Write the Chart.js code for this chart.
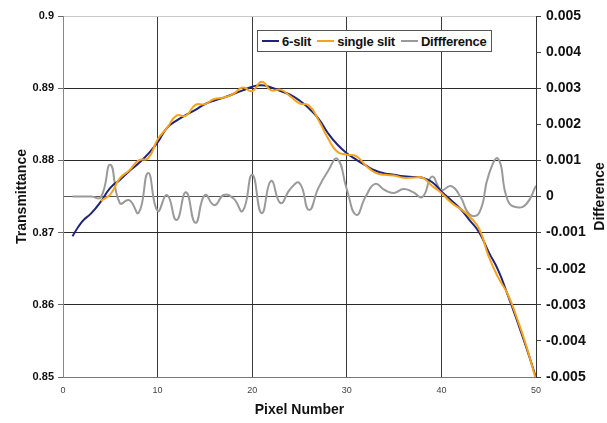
<!DOCTYPE html>
<html>
<head>
<meta charset="utf-8">
<script src="https://cdn.jsdelivr.net/npm/chart.js@4/dist/chart.umd.min.js"></script>
<style>
  html, body { margin: 0; padding: 0; background: #fff; }
  #wrap { position: relative; width: 607px; height: 423px; }
  #legend {
    position: absolute; left: 257px; top: 30px; height: 20px;
    border: 1px solid #555; background: #fff;
    display: flex; align-items: center; padding: 0 4px 0 4px;
    font: bold 13px "Liberation Sans", Arial, sans-serif; letter-spacing: -0.2px;
    color: #111; white-space: nowrap;
  }
  #legend .item { display: flex; align-items: center; margin-right: 6px; }
  #legend .item:last-child { margin-right: 0; }
  #legend .swatch { width: 17px; height: 2px; margin-right: 3px; }
</style>
</head>
<body>
<div id="wrap">
  <canvas id="myChart" width="607" height="423"></canvas>
  <div id="legend"></div>
</div>
<script>
// Pixel numbers along the detector
const pixels = [1, 2, 3, 4, 5, 6, 7, 8, 9, 10,
    11, 12, 13, 14, 15, 16, 17, 18, 19, 20,
    21, 22, 23, 24, 25, 26, 27, 28, 29, 30,
    31, 32, 33, 34, 35, 36, 37, 38, 39, 40,
    41, 42, 43, 44, 45, 46, 47, 48, 49, 50];

// Transmittance, 6-slit
const sixSlit = [0.8695, 0.8715, 0.8727, 0.8743, 0.8762, 0.8773, 0.8785, 0.8796, 0.8809, 0.8825,
    0.8845, 0.8855, 0.8863, 0.8870, 0.8878, 0.8883, 0.8887, 0.8892, 0.8897, 0.8902,
    0.8904, 0.8901, 0.8896, 0.8891, 0.8883, 0.8872, 0.8858, 0.8838, 0.8822, 0.8810,
    0.8801, 0.8793, 0.8786, 0.8782, 0.8780, 0.8778, 0.8777, 0.8776, 0.8770, 0.8757,
    0.8745, 0.8733, 0.8717, 0.8700, 0.8673, 0.8648, 0.8614, 0.8578, 0.8540, 0.8499];

// Transmittance, single slit (no reading for the first pixels)
const singleSlit = [null, null, null, 0.8744, 0.8753, 0.8775, 0.8786, 0.8800, 0.8803, 0.8829,
    0.8845, 0.8862, 0.8862, 0.8877, 0.8878, 0.8885, 0.8887, 0.8892, 0.8901, 0.8896,
    0.8909, 0.8897, 0.8898, 0.8889, 0.8879, 0.8876, 0.8856, 0.8831, 0.8812, 0.8808,
    0.8806, 0.8793, 0.8783, 0.8780, 0.8779, 0.8776, 0.8776, 0.8776, 0.8765, 0.8755,
    0.8742, 0.8733, 0.8722, 0.8705, 0.8667, 0.8638, 0.8615, 0.8581, 0.8542, 0.8496];

// Difference (right axis)
const difference = [0, 0, 0, -0.00002, 0.00088, -0.00018, -0.0001, -0.00045, 0.00065, -0.0004,
    0.00004, -0.00065, 0.00012, -0.00073, 0.00004, -0.00024, 0.00004, -0.00005, -0.0004, 0.0006,
    -0.00046, 0.00043, -0.00018, 0.0002, 0.00037, -0.00037, 0.00024, 0.0007, 0.00104, 0.0002,
    -0.00051, 0.0, 0.00035, 0.00018, 0.0001, 0.00021, 0.00012, -0.00001, 0.00055, 0.00018,
    0.00029, 0.0, -0.0005, -0.00045, 0.0006, 0.00104, -0.0001, -0.0003, -0.0002, 0.0003];

const FONT = '"Liberation Sans", Arial, sans-serif';

function toPoints(values) {
    return pixels.map((p, i) => ({ x: p, y: values[i] }));
}

// Right axis title, reads bottom to top like the left one
const rightTitle = {
    id: 'rightTitle',
    afterDraw(chart) {
        const { ctx, chartArea } = chart;
        ctx.save();
        ctx.translate(chart.width - 7, (chartArea.top + chartArea.bottom) / 2);
        ctx.rotate(-Math.PI / 2);
        ctx.font = 'bold 14px ' + FONT;
        ctx.fillStyle = '#111';
        ctx.textAlign = 'center';
        ctx.textBaseline = 'middle';
        ctx.fillText('Difference', 0, 0);
        ctx.restore();
    }
};

const ctx = document.getElementById('myChart').getContext('2d');
const chart = new Chart(ctx, {
    type: 'line',
    data: {
        datasets: [{
            label: '6-slit',
            data: toPoints(sixSlit),
            borderColor: '#1F237A',
            borderWidth: 2,
            yAxisID: 'y',
            order: 1
        }, {
            label: 'single slit',
            data: toPoints(singleSlit),
            borderColor: '#F7A21B',
            borderWidth: 2,
            yAxisID: 'y',
            order: 0
        }, {
            label: 'Diffference',
            data: toPoints(difference),
            borderColor: '#9A9A9A',
            borderWidth: 2,
            yAxisID: 'y2',
            order: 2
        }]
    },
    options: {
        responsive: false,
        animation: false,
        devicePixelRatio: 1,
        layout: { padding: { top: 16, left: 0, right: 0, bottom: 0 } },
        elements: {
            point: { radius: 0 },
            line: { tension: 0.5, fill: false }
        },
        plugins: {
            legend: { display: false },
            tooltip: { enabled: false }
        },
        scales: {
            x: {
                type: 'linear',
                min: 0,
                max: 50,
                ticks: {
                    stepSize: 10,
                    font: { family: FONT, size: 9 },
                    color: '#444',
                    padding: 8,
                    maxRotation: 0
                },
                grid: {
                    color: c => (c.tick && (c.tick.value === 0 || c.tick.value === 50)) ? 'rgba(0,0,0,0)' : '#3a3a3a',
                    drawTicks: false
                },
                border: { color: '#777', width: 1 },
                title: {
                    display: true,
                    text: 'Pixel Number',
                    font: { family: FONT, size: 14, weight: 'bold' },
                    color: '#111',
                    padding: { top: 0, bottom: 4 }
                },
                afterFit: s => { s.height = 46; }
            },
            y: {
                position: 'left',
                min: 0.85,
                max: 0.9,
                ticks: {
                    stepSize: 0.01,
                    font: { family: FONT, size: 11, weight: 'bold' },
                    color: '#111',
                    padding: 4,
                    callback: v => String(Math.round(v * 100) / 100)
                },
                grid: {
                    color: c => {
                        const v = Math.round(c.tick.value * 100) / 100;
                        if (v === 0.85) return 'rgba(0,0,0,0)';
                        if (v === 0.9) return '#c8c8c8';
                        return '#2a2a2a';
                    },
                    tickColor: '#666',
                    tickLength: 5
                },
                border: { color: '#888', width: 1 },
                title: {
                    display: true,
                    text: 'Transmittance',
                    font: { family: FONT, size: 14, weight: 'bold' },
                    color: '#111',
                    padding: { top: 14, bottom: 0 }
                },
                afterFit: s => { s.width = 63; }
            },
            y2: {
                position: 'right',
                min: -0.005,
                max: 0.005,
                ticks: {
                    stepSize: 0.001,
                    font: { family: FONT, size: 14, weight: 'bold' },
                    color: '#111',
                    padding: 5,
                    callback: v => {
                        const r = Math.round(v * 1000) / 1000;
                        return r === 0 ? '0' : r.toFixed(3);
                    }
                },
                grid: {
                    color: c => (Math.abs(c.tick.value) < 1e-9) ? '#555' : 'rgba(0,0,0,0)',
                    tickColor: '#444',
                    tickLength: 5
                },
                border: { color: '#333', width: 1 },
                afterFit: s => { s.width = 71; }
            }
        }
    },
    plugins: [rightTitle]
});

// HTML legend built from the datasets
const legendEl = document.getElementById('legend');
chart.data.datasets.forEach(ds => {
    const item = document.createElement('div');
    item.className = 'item';
    const sw = document.createElement('span');
    sw.className = 'swatch';
    sw.style.background = ds.borderColor;
    const txt = document.createElement('span');
    txt.textContent = ds.label;
    item.appendChild(sw);
    item.appendChild(txt);
    legendEl.appendChild(item);
});
</script>
</body>
</html>
